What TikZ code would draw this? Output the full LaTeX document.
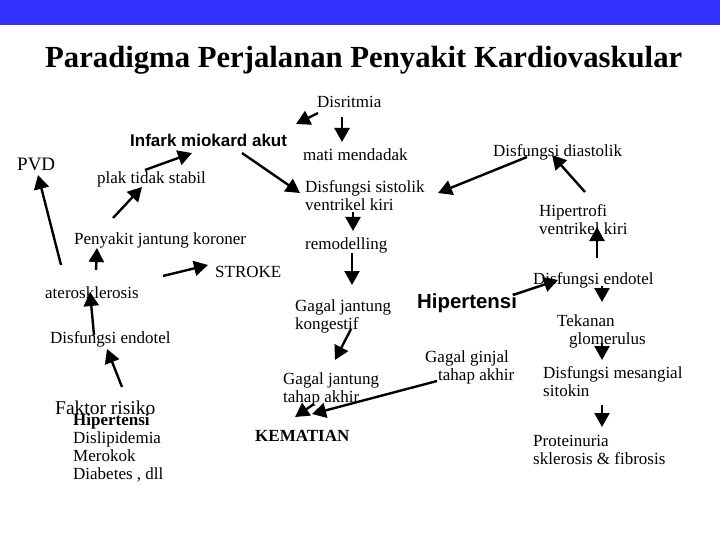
\documentclass[tikz,border=0pt]{standalone}
\usepackage{fontspec}
\setmainfont{Liberation Serif}
\newfontfamily\sansbold{Liberation Sans}
\usetikzlibrary{arrows.meta}
\definecolor{barblue}{HTML}{3333FF}
\tikzset{
  txt/.style={anchor=base west, inner sep=0pt, align=left, font=\fontsize{17}{18}\selectfont},
  mtxt/.style={txt, anchor=north west},
  arr/.style={line width=2.4pt, -{Triangle[length=14pt,width=15pt]}},
}
\begin{document}
\begin{tikzpicture}[x=1pt,y=-1pt]
\useasboundingbox (0,0) rectangle (720,540);
\fill[barblue] (0,0) rectangle (720,25);
\node[anchor=base west, inner sep=0pt, font=\fontsize{30.7}{32}\selectfont\bfseries] (title) at (45,68) {Paradigma Perjalanan Penyakit Kardiovaskular};

% centre column
\node[txt] (disr) at (317,108) {Disritmia};
\node[txt] (mati) at (303,161) {mati mendadak};
\node[txt, font=\fontsize{17}{18}\sansbold\bfseries] (ima) at (130,147) {Infark miokard akut};
\node[mtxt] (dss) at (305,180.5) {Disfungsi sistolik\\ventrikel kiri};
\node[txt] (remo) at (305,249) {remodelling};
\node[mtxt] (gjk) at (295,299.5) {Gagal jantung\\kongestif};
\node[mtxt] (gjta) at (283,372.5) {Gagal jantung\\tahap akhir};
\node[txt, font=\fontsize{17}{18}\selectfont\bfseries] (mati2) at (255,441) {KEMATIAN};
\node[mtxt] (ggta) at (425,350.5) {Gagal ginjal\\\hspace*{13pt}tahap akhir};

% left column
\node[txt, font=\fontsize{19}{20}\selectfont] (pvd) at (17,171) {PVD};
\node[txt] (plak) at (97,184) {plak tidak stabil};
\node[txt] (pjk) at (74,244) {Penyakit jantung koroner};
\node[txt] (stroke) at (215,277) {STROKE};
\node[txt] (ater) at (45,298) {aterosklerosis};
\node[txt] (endl) at (50,343) {Disfungsi endotel};
\node[txt, font=\fontsize{19.5}{20}\selectfont] (fak) at (55,414) {Faktor risiko};
\node[mtxt] (risk) at (73,414) {\textbf{Hipertensi}\\Dislipidemia\\Merokok\\Diabetes , dll};

% right column
\node[txt] (dds) at (493,157) {Disfungsi diastolik};
\node[mtxt] (hvk) at (539,204.5) {Hipertrofi\\ventrikel kiri};
\node[txt] (endr) at (533,284) {Disfungsi endotel};
\node[txt, font=\fontsize{20.4}{21}\sansbold\bfseries] (hip) at (417,308) {Hipertensi};
\node[mtxt] (tek) at (557,314.5) {Tekanan\\\hspace*{12pt}glomerulus};
\node[mtxt] (mes) at (543,366.5) {Disfungsi mesangial\\sitokin};
\node[mtxt] (prot) at (533,435.5) {Proteinuria\\sklerosis \& fibrosis};

% free ends of connectors
\coordinate (a1s) at (342,117); \coordinate (a1e) at (342,142);
\coordinate (a2s) at (318,113); \coordinate (a2e) at (296,124);
\coordinate (a3s) at (242,153); \coordinate (a3e) at (300,193);
\coordinate (a4s) at (353,212); \coordinate (a4e) at (353,231);
\coordinate (a5s) at (352,253); \coordinate (a5e) at (352,285);
\coordinate (a6s) at (351,329); \coordinate (a6e) at (335,360);
\coordinate (a7s) at (314,404); \coordinate (a7e) at (295,417);
\coordinate (a8s) at (437,381); \coordinate (a8e) at (312,414);
\coordinate (a9s) at (61,265); \coordinate (a9e) at (38,175);
\coordinate (a10s) at (113,218); \coordinate (a10e) at (142,187);
\coordinate (a11s) at (145,170); \coordinate (a11e) at (192,153);
\coordinate (a12s) at (163,276); \coordinate (a12e) at (208,265);
\coordinate (a13s) at (96,270); \coordinate (a13e) at (97,248);
\coordinate (a14s) at (94,335); \coordinate (a14e) at (90,292);
\coordinate (a15s) at (122,387); \coordinate (a15e) at (107,349);
\coordinate (a16s) at (527,157); \coordinate (a16e) at (438,193);
\coordinate (a17s) at (585,192); \coordinate (a17e) at (552,155);
\coordinate (a18s) at (597,258); \coordinate (a18e) at (597,227);
\coordinate (a19s) at (513,295); \coordinate (a19e) at (558,280);
\coordinate (a20s) at (602,286); \coordinate (a20e) at (602,302);
\coordinate (a21s) at (602,343); \coordinate (a21e) at (602,360);
\coordinate (a22s) at (602,405); \coordinate (a22e) at (602,427);

\foreach \i in {1,...,22} \draw[arr] (a\i s) -- (a\i e);
\end{tikzpicture}
\end{document}
